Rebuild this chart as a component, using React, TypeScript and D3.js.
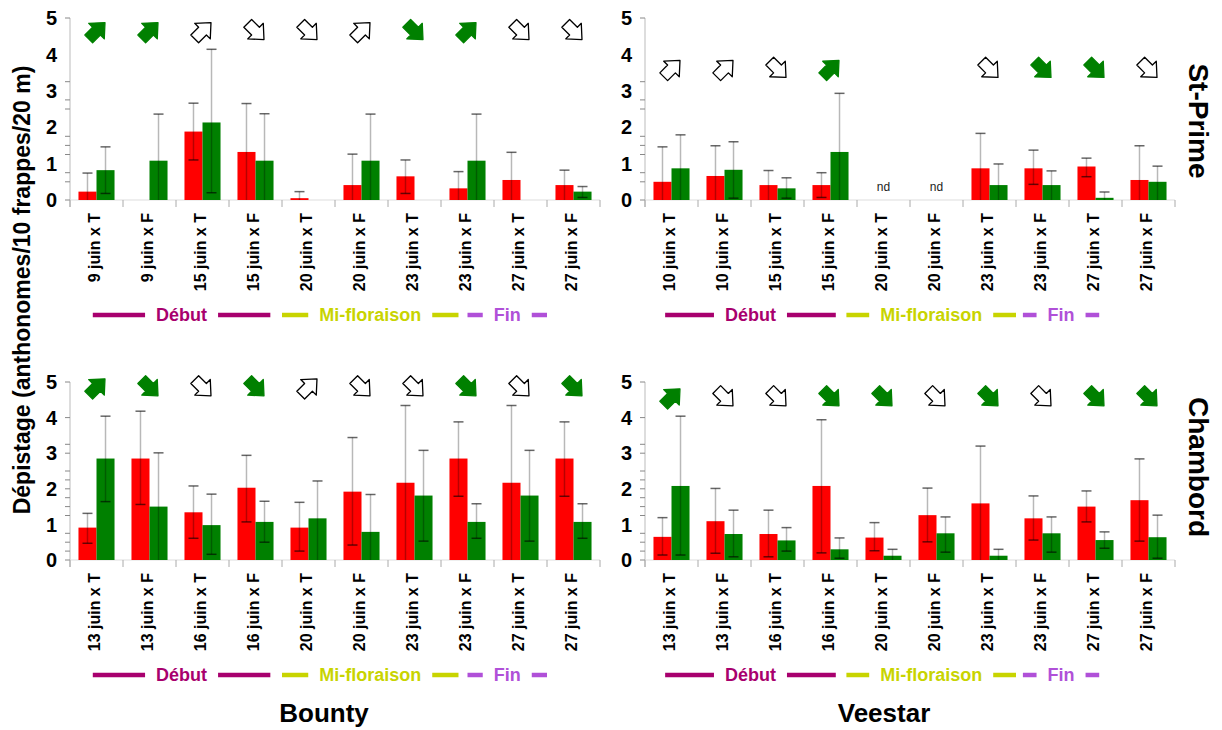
import React, { useRef, useEffect } from "react";
import * as d3 from "d3";

// dates x traitement (T / F)
const datesStPrimeBounty = ["9 juin x T", "9 juin x F", "15 juin x T", "15 juin x F", "20 juin x T", "20 juin x F", "23 juin x T", "23 juin x F", "27 juin x T", "27 juin x F"];
const datesStPrimeVeestar = ["10 juin x T", "10 juin x F", "15 juin x T", "15 juin x F", "20 juin x T", "20 juin x F", "23 juin x T", "23 juin x F", "27 juin x T", "27 juin x F"];
const datesChambord = ["13 juin x T", "13 juin x F", "16 juin x T", "16 juin x F", "20 juin x T", "20 juin x F", "23 juin x T", "23 juin x F", "27 juin x T", "27 juin x F"];

const series = ["rouge", "vert"];
const colors = { rouge: "#ff0000", vert: "#008000" };

// St-Prime / Bounty
const rougeSPB = [0.23, 0, 1.88, 1.32, 0.05, 0.41, 0.65, 0.32, 0.55, 0.41];
const vertSPB = [0.82, 1.08, 2.13, 1.08, 0, 1.08, 0, 1.08, 0, 0.23];
const errRougeSPB = [[0, 0.74], null, [1.1, 2.66], [0, 2.65], [0, 0.23], [0, 1.26], [0.18, 1.1], [0, 0.78], [0, 1.31], [0, 0.82]];
const errVertSPB = [[0.18, 1.46], [0, 2.36], [0.2, 4.14], [0, 2.37], null, [0, 2.36], null, [0, 2.36], null, [0.07, 0.37]];
const flechesSPB = ["gu", "gu", "wu", "wd", "wd", "wu", "gd", "gu", "wd", "wd"];

// St-Prime / Veestar
const rougeSPV = [0.5, 0.66, 0.41, 0.41, null, null, 0.87, 0.87, 0.92, 0.55];
const vertSPV = [0.87, 0.83, 0.32, 1.32, null, null, 0.41, 0.41, 0.06, 0.5];
const errRougeSPV = [[0, 1.46], [0, 1.49], [0, 0.81], [0.07, 0.75], null, null, [0, 1.83], [0.43, 1.37], [0.64, 1.15], [0, 1.49]];
const errVertSPV = [[0, 1.79], [0.05, 1.6], [0.05, 0.61], [0, 2.93], null, null, [0, 0.99], [0, 0.8], [0, 0.22], [0, 0.93]];
const flechesSPV = ["wu", "wu", "wd", "gu", null, null, "wd", "gd", "gd", "wd"];

// Chambord / Bounty
const rougeCB = [0.91, 2.85, 1.34, 2.03, 0.91, 1.92, 2.17, 2.85, 2.17, 2.85];
const vertCB = [2.85, 1.5, 0.98, 1.07, 1.17, 0.79, 1.81, 1.07, 1.81, 1.07];
const errRougeCB = [[0.47, 1.31], [1.56, 4.18], [0.61, 2.08], [1.07, 2.94], [0.25, 1.62], [0.42, 3.44], [0, 4.34], [1.79, 3.88], [0, 4.34], [1.79, 3.88]];
const errVertCB = [[1.64, 4.04], [0, 3.01], [0.16, 1.85], [0.5, 1.65], [0, 2.22], [0, 1.84], [0.53, 3.08], [0.61, 1.58], [0.53, 3.08], [0.61, 1.58]];
const flechesCB = ["gu", "gd", "wd", "gd", "wu", "wd", "wd", "gd", "wd", "gd"];

// Chambord / Veestar
const rougeCV = [0.65, 1.09, 0.73, 2.08, 0.63, 1.26, 1.59, 1.17, 1.5, 1.68];
const vertCV = [2.08, 0.73, 0.55, 0.3, 0.12, 0.75, 0.12, 0.75, 0.56, 0.64];
const errRougeCV = [[0.14, 1.19], [0.19, 2.01], [0.09, 1.4], [0.2, 3.94], [0.26, 1.05], [0.51, 2.02], [0, 3.2], [0.56, 1.8], [1.07, 1.94], [0.53, 2.84]];
const errVertCV = [[0.14, 4.04], [0.09, 1.4], [0.25, 0.91], [0.05, 0.62], [0, 0.3], [0.22, 1.21], [0, 0.3], [0.22, 1.21], [0.33, 0.79], [0.05, 1.26]];
const flechesCV = ["gu", "wd", "wd", "gd", "gd", "wd", "gd", "wd", "gd", "gd"];

const yLabels = [0, 1, 2, 3, 4, 5];
const ticksStPrime = [0, 0.5, 0.75, 1.25, 1.5, 1.75, 2.5, 2.75, 3.25, 5];
const ticksChambord = [0, 0.25, 0.5, 0.75, 1.25, 1.5, 1.75, 2, 2.25, 2.5, 3, 3.25, 4, 5];

// stades floraux (en unités de groupe sur l'axe x)
const stadesBounty = [
  { nom: "Début", debut: 0.43, fin: 3.78, couleur: "#a8006e" },
  { nom: "Mi-floraison", debut: 4.0, fin: 7.33, couleur: "#c8d400" },
  { nom: "Fin", debut: 7.5, fin: 9.0, couleur: "#b050d8" },
];
const stadesVeestar = [
  { nom: "Début", debut: 0.38, fin: 3.6, couleur: "#a8006e" },
  { nom: "Mi-floraison", debut: 3.8, fin: 7.0, couleur: "#c8d400" },
  { nom: "Fin", debut: 7.13, fin: 8.57, couleur: "#b050d8" },
];

const FONT = "'Liberation Sans', Arial, Helvetica, sans-serif";

const panels = [
  { cats: datesStPrimeBounty, rouge: rougeSPB, vert: vertSPB, errRouge: errRougeSPB, errVert: errVertSPB, fleches: flechesSPB, left: 70, bottom: 200, top: 18, flecheY: 4.64, ticks: ticksStPrime, stades: stadesBounty },
  { cats: datesStPrimeVeestar, rouge: rougeSPV, vert: vertSPV, errRouge: errRougeSPV, errVert: errVertSPV, fleches: flechesSPV, left: 645, bottom: 200, top: 18, flecheY: 3.6, ticks: ticksStPrime, stades: stadesVeestar },
  { cats: datesChambord, rouge: rougeCB, vert: vertCB, errRouge: errRougeCB, errVert: errVertCB, fleches: flechesCB, left: 70, bottom: 560, top: 382, flecheY: 4.85, ticks: ticksChambord, stades: stadesBounty },
  { cats: datesChambord, rouge: rougeCV, vert: vertCV, errRouge: errRougeCV, errVert: errVertCV, fleches: flechesCV, left: 645, bottom: 560, top: 382, flecheY: 4.57, ticks: ticksChambord, stades: stadesVeestar },
];

// block arrow pointing up, rotated later
const arrowPath = "M0,-12 L11,0 L5.5,0 L5.5,11 L-5.5,11 L-5.5,0 L-11,0 Z";

const drawPanel = (svg, p) => {
  const width = 530;
  const x = d3.scaleBand().domain(p.cats).range([p.left, p.left + width]);
  const xs = d3.scaleBand().domain(series).range([0, x.bandwidth()]).paddingOuter(0.47);
  const y = d3.scaleLinear().domain([0, 5]).range([p.bottom, p.top]);
  const g = svg.append("g").style("font-family", FONT);

  // y axis
  g.append("line")
    .attr("x1", p.left).attr("x2", p.left)
    .attr("y1", y(5)).attr("y2", p.bottom + 7)
    .attr("stroke", "#bbb");
  g.selectAll(".ytick")
    .data(p.ticks)
    .enter()
    .append("line")
    .attr("x1", p.left - 5).attr("x2", p.left)
    .attr("y1", (d) => y(d)).attr("y2", (d) => y(d))
    .attr("stroke", "#888");
  g.selectAll(".ylab")
    .data(yLabels)
    .enter()
    .append("text")
    .attr("x", p.left - 13)
    .attr("y", (d) => y(d))
    .attr("dy", "0.36em")
    .attr("text-anchor", "end")
    .style("font-size", "20px")
    .style("font-weight", "bold")
    .text((d) => d);

  // x axis
  g.append("line")
    .attr("x1", p.left).attr("x2", p.left + width)
    .attr("y1", p.bottom).attr("y2", p.bottom)
    .attr("stroke", "#ddd");
  g.selectAll(".xtick")
    .data(d3.range(p.cats.length + 1))
    .enter()
    .append("line")
    .attr("x1", (i) => p.left + i * x.step()).attr("x2", (i) => p.left + i * x.step())
    .attr("y1", p.bottom).attr("y2", p.bottom + 7)
    .attr("stroke", "#aaa");

  const rows = p.cats.map((c, i) => ({
    cat: c,
    vals: [
      { key: "rouge", v: p.rouge[i], err: p.errRouge[i] },
      { key: "vert", v: p.vert[i], err: p.errVert[i] },
    ],
    fleche: p.fleches[i],
    nd: p.rouge[i] == null && p.vert[i] == null,
  }));

  const groups = g.selectAll(".grp")
    .data(rows)
    .enter()
    .append("g")
    .attr("transform", (d) => `translate(${x(d.cat)},0)`);

  // bars
  groups.selectAll("rect")
    .data((d) => d.vals.filter((v) => v.v != null && v.v > 0))
    .enter()
    .append("rect")
    .attr("x", (d) => xs(d.key))
    .attr("width", xs.bandwidth())
    .attr("y", (d) => y(d.v))
    .attr("height", (d) => p.bottom - y(d.v))
    .attr("fill", (d) => colors[d.key]);

  // error bars
  const errs = groups.selectAll(".err")
    .data((d) => d.vals.filter((v) => v.err))
    .enter()
    .append("g");
  errs.append("line")
    .attr("x1", (d) => xs(d.key) + xs.bandwidth() / 2)
    .attr("x2", (d) => xs(d.key) + xs.bandwidth() / 2)
    .attr("y1", (d) => y(d.err[0]))
    .attr("y2", (d) => y(d.err[1]))
    .attr("stroke", "#000")
    .attr("stroke-opacity", 0.28)
    .attr("stroke-width", 1.5);
  errs.selectAll(".cap")
    .data((d) => d.err.filter((e) => e > 0.02).map((e) => ({ key: d.key, e })))
    .enter()
    .append("line")
    .attr("x1", (d) => xs(d.key) + xs.bandwidth() / 2 - 5)
    .attr("x2", (d) => xs(d.key) + xs.bandwidth() / 2 + 5)
    .attr("y1", (d) => y(d.e))
    .attr("y2", (d) => y(d.e))
    .attr("stroke", "#000")
    .attr("stroke-opacity", 0.6)
    .attr("stroke-width", 1.5);

  // nd
  groups.filter((d) => d.nd)
    .append("text")
    .attr("x", x.bandwidth() / 2)
    .attr("y", p.bottom - 13)
    .attr("dy", "0.35em")
    .attr("text-anchor", "middle")
    .style("font-size", "12px")
    .attr("fill", "#222")
    .text("nd");

  // arrows
  groups.filter((d) => d.fleche)
    .append("path")
    .attr("d", arrowPath)
    .attr("transform", (d) =>
      `translate(${x.bandwidth() / 2},${y(p.flecheY)}) rotate(${d.fleche[1] === "u" ? 45 : 135})`)
    .attr("fill", (d) => (d.fleche[0] === "g" ? "#008000" : "#fff"))
    .attr("stroke", (d) => (d.fleche[0] === "g" ? "#008000" : "#000"))
    .attr("stroke-width", 1.3)
    .attr("stroke-linejoin", "round");

  // x labels
  groups.append("text")
    .attr("transform", `translate(${x.bandwidth() / 2 + 3},${p.bottom + 13}) rotate(-90)`)
    .attr("text-anchor", "end")
    .style("font-size", "16px")
    .style("font-weight", "bold")
    .text((d) => d.cat);

  // stades
  const lineY = p.bottom + 115;
  p.stades.forEach((s) => {
    const x0 = p.left + s.debut * x.step();
    const x1 = p.left + s.fin * x.step();
    const cx = (x0 + x1) / 2;
    const t = g.append("text")
      .attr("x", cx)
      .attr("y", lineY + 6)
      .attr("text-anchor", "middle")
      .style("font-size", "18px")
      .style("font-weight", "bold")
      .attr("fill", s.couleur)
      .text(s.nom);
    const tw = t.node().getComputedTextLength();
    const gap = 11;
    [[x0, cx - tw / 2 - gap], [cx + tw / 2 + gap, x1]].forEach(([a, b]) => {
      g.append("line")
        .attr("x1", a).attr("x2", b)
        .attr("y1", lineY).attr("y2", lineY)
        .attr("stroke", s.couleur)
        .attr("stroke-width", 4.5);
    });
  });
};

const App = () => {
  const ref = useRef(null);

  useEffect(() => {
    const svg = d3.select(ref.current);
    svg.selectAll("*").remove();

    panels.forEach((p) => drawPanel(svg, p));

    svg.append("text")
      .attr("transform", "translate(30,290) rotate(-90)")
      .attr("text-anchor", "middle")
      .style("font-family", FONT)
      .style("font-size", "23px")
      .style("font-weight", "bold")
      .text("Dépistage (anthonomes/10 frappes/20 m)");

    [["St-Prime", 121], ["Chambord", 467]].forEach(([t, cy]) => {
      svg.append("text")
        .attr("transform", `translate(1189,${cy}) rotate(90)`)
        .attr("text-anchor", "middle")
        .style("font-family", FONT)
        .style("font-size", "28px")
        .style("font-weight", "bold")
        .text(t);
    });

    [["Bounty", 324], ["Veestar", 884]].forEach(([t, cx]) => {
      svg.append("text")
        .attr("x", cx)
        .attr("y", 722)
        .attr("text-anchor", "middle")
        .style("font-family", FONT)
        .style("font-size", "26px")
        .style("font-weight", "bold")
        .text(t);
    });
  }, []);

  return (
    <svg
      ref={ref}
      width={1222}
      height={730}
      style={{ position: "absolute", left: 0, top: 0, background: "#fff" }}
    ></svg>
  );
};

export default App;
